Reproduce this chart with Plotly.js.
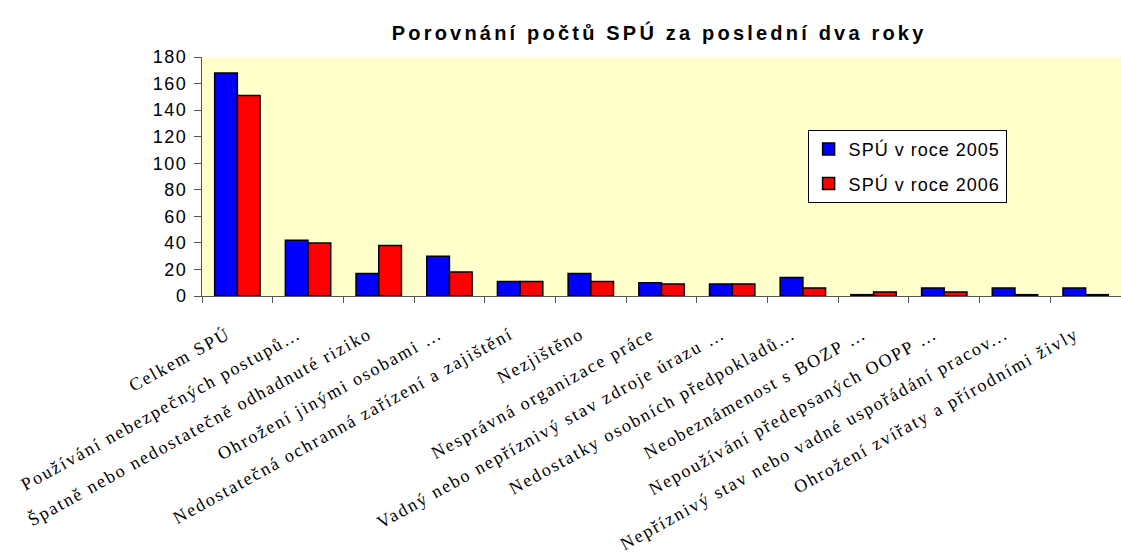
<!DOCTYPE html>
<html>
<head>
<meta charset="utf-8">
<script src="https://cdn.plot.ly/plotly-3.0.1.min.js"></script>
<style>
html,body{margin:0;padding:0;background:#fff;}
#chart{width:1121px;height:555px;}
.gtitle{letter-spacing:3.2px;}
.xtick text{letter-spacing:1.9px;}
.ytick text{letter-spacing:1.5px;}
.legendtext{letter-spacing:1px;}
</style>
</head>
<body>
<div id="chart"></div>
<script>
const categories = [
  "Celkem SPÚ",
  "Používání nebezpečných postupů…",
  "Špatně nebo nedostatečně odhadnuté riziko",
  "Ohrožení jinými osobami …",
  "Nedostatečná ochranná zařízení a zajištění",
  "Nezjištěno",
  "Nesprávná organizace práce",
  "Vadný nebo nepříznivý stav zdroje úrazu …",
  "Nedostatky osobních předpokladů…",
  "Neobeznámenost s BOZP …",
  "Nepoužívání předepsaných OOPP …",
  "Nepříznivý stav nebo vadné uspořádání pracov...",
  "Ohrožení zvířaty a přírodními živly"
];
const spu2005 = [168, 42, 17, 30, 11, 17, 10, 9, 14, 1, 6, 6, 6];
const spu2006 = [151, 40, 38, 18, 11, 11, 9, 9, 6, 3, 3, 1, 1];
const yTicks = [0, 20, 40, 60, 80, 100, 120, 140, 160, 180];

const traces = [
  {type:'bar', x:categories, y:spu2005, name:'SPÚ v roce 2005', legendgroup:'a',
   marker:{color:'#0000FF', line:{color:'#000000', width:1.5}}},
  {type:'bar', x:categories, y:spu2006, name:'SPÚ v roce 2006', legendgroup:'b',
   marker:{color:'#FF0000', line:{color:'#000000', width:1.5}}}
];

const layout = {
  width:1121, height:555,
  margin:{l:202, r:0, t:57, b:259, pad:0},
  paper_bgcolor:'#FFFFFF',
  plot_bgcolor:'#FFFFCC',
  title:{text:'Porovnání počtů SPÚ za poslední dva roky', x:0.588, xanchor:'center', y:0.94, yanchor:'middle',
         font:{family:'Liberation Sans, Arial', size:20, color:'#000', weight:'bold'}},
  barmode:'group', bargap:0.358, bargroupgap:0,
  showlegend:true,
  legend:{x:0.659, y:0.695, xanchor:'left', yanchor:'top', bgcolor:'#FFFFFF', bordercolor:'#000000', borderwidth:1,
          font:{family:'Liberation Sans, Arial', size:18, color:'#000'}, traceorder:'grouped', tracegroupgap:8},
  xaxis:{type:'category', tickangle:-29, showgrid:false, showline:true, linecolor:'#555', linewidth:1,
         ticks:'outside', ticklen:6, tickcolor:'#555', tickson:'boundaries',
         ticklabelstandoff:20, ticklabelshift:-10,
         tickfont:{family:'Liberation Serif, Times New Roman', size:18, color:'#000'}, automargin:false},
  yaxis:{range:[0,180], tickvals:yTicks, showgrid:false, zeroline:false, showline:true, linecolor:'#555', linewidth:1,
         ticks:'outside', ticklen:7, tickcolor:'#555', ticklabelstandoff:3,
         tickfont:{family:'Liberation Sans, Arial', size:18, color:'#000'}, automargin:false}
};

Plotly.newPlot('chart', traces, layout, {displayModeBar:false, staticPlot:true});
</script>
</body>
</html>
